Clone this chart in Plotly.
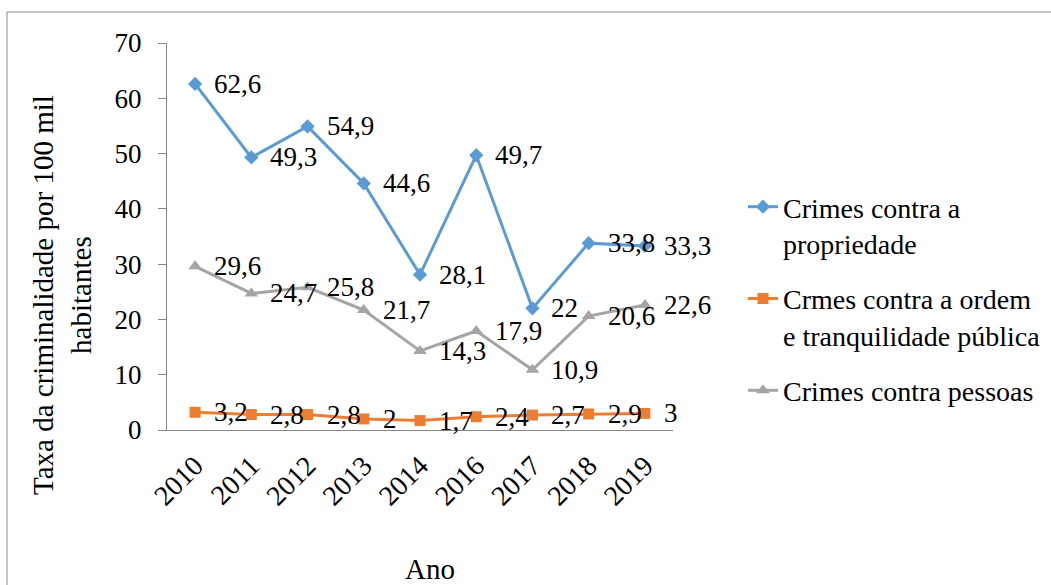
import plotly.graph_objects as go

# Categories (years) and series values
anos = ["2010", "2011", "2012", "2013", "2014", "2016", "2017", "2018", "2019"]
propriedade = [62.6, 49.3, 54.9, 44.6, 28.1, 49.7, 22, 33.8, 33.3]
ordem = [3.2, 2.8, 2.8, 2, 1.7, 2.4, 2.7, 2.9, 3]
pessoas = [29.6, 24.7, 25.8, 21.7, 14.3, 17.9, 10.9, 20.6, 22.6]

nomes = [
    "Crimes contra a<br>propriedade",
    "Crmes contra a ordem<br>e tranquilidade pública",
    "Crimes contra pessoas",
]
y_ticks = [0, 10, 20, 30, 40, 50, 60, 70]

FONT = "Liberation Serif, Times New Roman, serif"
W, H = 1051, 585
L, R, T, B = 167, 378, 43, 155  # plot-area margins in px
PW, PH = W - L - R, H - T - B


def px_x(px):
    return (px - L) / PW


def px_y(py):
    return (H - B - py) / PH


def fmt(v):
    return f"{v:g}".replace(".", ",")


series = [
    (propriedade, nomes[0], "#5B9BD5", "diamond", 11),
    (ordem, nomes[1], "#ED7D31", "square", 11),
    (pessoas, nomes[2], "#A5A5A5", "triangle-up", 12),
]

fig = go.Figure()
annotations = []
for i, (vals, nome, cor, simbolo, tam) in enumerate(series):
    fig.add_trace(go.Scatter(
        x=anos, y=vals, name=nome, mode="lines+markers",
        legendgroup=f"g{i}",
        line=dict(color=cor, width=3),
        marker=dict(symbol=simbolo, size=tam, color=cor),
    ))
    # value labels, placed by category index on the category axis
    for k, v in enumerate(vals):
        annotations.append(dict(
            x=k, y=v, xref="x", yref="y", text=fmt(v), showarrow=False,
            xanchor="left", yanchor="middle", xshift=17,
            font=dict(family=FONT, size=27, color="#000000"),
        ))

# Axis titles
annotations.append(dict(
    x=px_x(62), y=px_y(295), xref="paper", yref="paper",
    text="Taxa da criminalidade por 100 mil<br>habitantes",
    textangle=-90, showarrow=False, xanchor="center", yanchor="middle",
    font=dict(family=FONT, size=29, color="#000000"),
))
annotations.append(dict(
    x=px_x(430), y=px_y(569), xref="paper", yref="paper", text="Ano",
    showarrow=False, xanchor="center", yanchor="middle",
    font=dict(family=FONT, size=29, color="#000000"),
))

fig.update_layout(
    width=W, height=H,
    margin=dict(l=L, r=R, t=T, b=B, autoexpand=False),
    paper_bgcolor="white", plot_bgcolor="white",
    font=dict(family=FONT, size=27, color="#000000"),
    showlegend=True,
    legend=dict(
        x=px_x(743), y=px_y(182), xanchor="left", yanchor="top",
        valign="top", tracegroupgap=16,
        font=dict(family=FONT, size=28, color="#000000"),
        bgcolor="rgba(0,0,0,0)",
    ),
    annotations=annotations,
    shapes=[dict(
        type="rect", xref="paper", yref="paper",
        x0=px_x(7), x1=px_x(1060), y0=px_y(600), y1=px_y(12),
        line=dict(color="#898989", width=1), fillcolor="rgba(0,0,0,0)",
        layer="below",
    )],
)

fig.update_xaxes(
    type="category", categoryorder="array", categoryarray=anos,
    range=[-0.5, len(anos) - 0.5],
    showline=True, linecolor="#868686", linewidth=1,
    showgrid=False, ticks="", tickangle=-45, ticklabelstandoff=7,
    tickfont=dict(family=FONT, size=28, color="#000000"),
    zeroline=False,
)
fig.update_yaxes(
    range=[0, 70], tickvals=y_ticks, ticktext=[str(t) for t in y_ticks],
    showline=True, linecolor="#868686", linewidth=1,
    showgrid=False, ticks="outside", ticklen=8, tickcolor="#868686",
    ticklabelstandoff=11,
    tickfont=dict(family=FONT, size=27, color="#000000"),
    zeroline=False,
)

fig.write_html("out.html")
